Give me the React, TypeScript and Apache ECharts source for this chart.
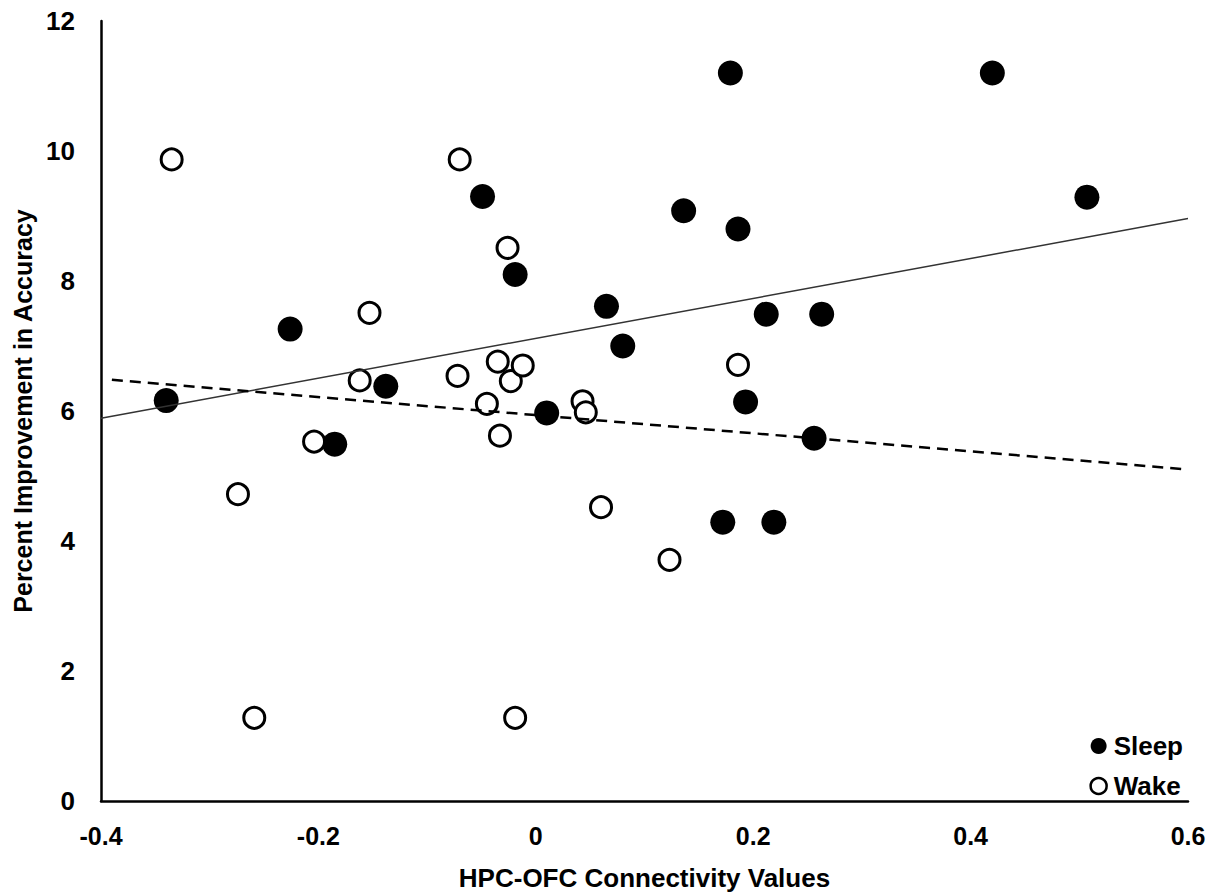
import React, { useEffect, useRef } from "react";
import * as echarts from "echarts";

// HPC-OFC connectivity (x) vs. percent improvement in accuracy (y)
const sleepX = [-0.34, -0.226, -0.185, -0.138, -0.049, -0.019, 0.01, 0.065, 0.08, 0.136, 0.172, 0.179, 0.186, 0.193, 0.212, 0.219, 0.256, 0.263, 0.42, 0.507];
const sleepY = [6.16, 7.26, 5.49, 6.38, 9.3, 8.1, 5.97, 7.61, 7.0, 9.08, 4.29, 11.2, 8.8, 6.14, 7.49, 4.29, 5.58, 7.49, 11.2, 9.29];

const wakeX = [-0.335, -0.274, -0.259, -0.204, -0.162, -0.153, -0.072, -0.07, -0.045, -0.035, -0.033, -0.026, -0.023, -0.019, -0.012, 0.043, 0.046, 0.06, 0.123, 0.186];
const wakeY = [9.87, 4.72, 1.28, 5.53, 6.47, 7.51, 6.54, 9.87, 6.11, 6.76, 5.62, 8.51, 6.46, 1.28, 6.7, 6.15, 5.98, 4.52, 3.71, 6.71];

// Linear trend lines (endpoints)
const sleepTrendX = [-0.4, 0.6];
const sleepTrendY = [5.89, 8.96];
const wakeTrendX = [-0.39, 0.6];
const wakeTrendY = [6.48, 5.1];

const FONT = "'Liberation Sans', Arial, sans-serif";

const zip = (xs: number[], ys: number[]) => xs.map((x, i) => [x, ys[i]]);

export default function App() {
  const ref = useRef<HTMLDivElement>(null);

  useEffect(() => {
    document.body.style.margin = "0";
    const chart = echarts.init(ref.current!, null, { renderer: "svg" });
    chart.setOption({
      animation: false,
      backgroundColor: "#ffffff",
      textStyle: { fontFamily: FONT },
      grid: { left: 101, right: 28, top: 21, bottom: 90, containLabel: false },
      xAxis: {
        type: "value",
        min: -0.4,
        max: 0.6,
        interval: 0.2,
        name: "HPC-OFC Connectivity Values",
        nameLocation: "middle",
        nameGap: 64,
        nameTextStyle: { fontFamily: FONT, fontWeight: "bold", fontSize: 26, color: "#000" },
        axisLine: { lineStyle: { color: "#000", width: 2.5 } },
        axisTick: { show: false },
        splitLine: { show: false },
        axisLabel: {
          margin: 22,
          fontFamily: FONT,
          fontWeight: "bold",
          fontSize: 25,
          color: "#000",
          formatter: (v: number) => String(Math.round(v * 10) / 10),
        },
      },
      yAxis: {
        type: "value",
        min: 0,
        max: 12,
        interval: 2,
        name: "Percent Improvement in Accuracy",
        nameLocation: "middle",
        nameGap: 60,
        nameTextStyle: { fontFamily: FONT, fontWeight: "bold", fontSize: 25, color: "#000" },
        axisLine: { show: true, onZero: false, lineStyle: { color: "#000", width: 2.5 } },
        axisTick: { show: false },
        splitLine: { show: false },
        axisLabel: {
          margin: 26,
          fontFamily: FONT,
          fontWeight: "bold",
          fontSize: 26,
          color: "#000",
        },
      },
      legend: {
        orient: "vertical",
        right: 28,
        top: 728,
        itemGap: 14,
        itemWidth: 16,
        itemHeight: 16,
        textStyle: { fontFamily: FONT, fontWeight: "bold", fontSize: 26, color: "#000", padding: [0, 0, 0, 2] },
        data: [
          { name: "Sleep", icon: "circle", itemStyle: { color: "#000", borderWidth: 0 } },
          { name: "Wake", icon: "circle", itemStyle: { color: "#fff", borderColor: "#000", borderWidth: 2.5 } },
        ],
      },
      series: [
        {
          name: "Sleep",
          type: "scatter",
          symbol: "circle",
          symbolSize: 25,
          itemStyle: { color: "#000", opacity: 1 },
          data: zip(sleepX, sleepY),
          z: 2,
        },
        {
          name: "Wake",
          type: "scatter",
          symbol: "circle",
          symbolSize: 21,
          itemStyle: { color: "#fff", borderColor: "#000", borderWidth: 3, opacity: 1 },
          data: zip(wakeX, wakeY),
          z: 3,
        },
        {
          name: "Sleep trend",
          type: "line",
          symbol: "none",
          silent: true,
          lineStyle: { color: "#333", width: 1.5 },
          data: zip(sleepTrendX, sleepTrendY),
          z: 4,
        },
        {
          name: "Wake trend",
          type: "line",
          symbol: "none",
          silent: true,
          lineStyle: { color: "#000", width: 2.5, type: [11, 7] },
          data: zip(wakeTrendX, wakeTrendY),
          z: 4,
        },
      ],
    });
    return () => chart.dispose();
  }, []);

  return <div ref={ref} style={{ width: 1216, height: 896 }} />;
}
